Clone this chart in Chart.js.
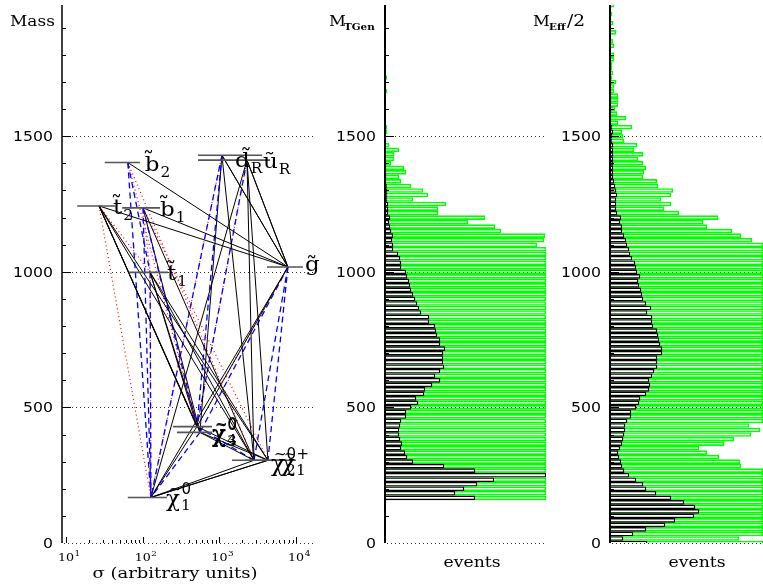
<!DOCTYPE html>
<html>
<head>
<meta charset="utf-8">
<script src="https://cdn.jsdelivr.net/npm/chart.js@4.4.0/dist/chart.umd.min.js"></script>
<style>
  html, body { margin: 0; padding: 0; background: #fff; }
  #wrap { position: relative; width: 763px; height: 584px; }
  #wrap canvas { position: absolute; left: 0; top: 0; }
</style>
</head>
<body>
<div id="wrap">
  <canvas id="spectrum" width="763" height="584"></canvas>
  <canvas id="tgen" width="763" height="584"></canvas>
  <canvas id="meff" width="763" height="584"></canvas>
</div>
<script>
// ---- axes ----
const massTicks = [0, 500, 1000, 1500];
const sigmaTicks = [10, 100, 1000, 10000];
const sigmaTickExp = ['1', '2', '3', '4'];

// ---- sparticle spectrum (left panel) ----
const particles    = ['b2', 't2', 'b1', 't1', 'dR', 'uR', 'gl', 'n4', 'n3', 'n2', 'c1', 'n1'];
const particleMass = [1403, 1243, 1236, 998, 1430, 1412, 1018, 429, 408, 305, 305, 168];
const particleSigma = [64, 27, 101, 125, 1080, 2290, 7830, 510, 558, 2830, 4300, 128];
const levelFrom = [32, 14, 54, 66, 526, 526, 4180, 248, 280, 1460, 2160, 64];
const levelTo   = [92, 44, 168, 214, 3590, 4570, 12300, 801, 801, 7160, 9970, 207];
const particleSymbol = ['b', 't', 'b', 't', 'd', 'u', 'g', 'χ', 'χ', 'χ', 'χ', 'χ'];
const particleSup    = ['', '', '', '', '', '', '', '0', '0', '0', '+', '0'];
const particleSub    = ['2', '2', '1', '1', 'R', 'R', '', '4', '3', '2', '1', '1'];

// decay lines: parent -> child, k = solid black, b = blue dashed, r = red dotted, br = both
const decayParent = ['b2','b1','t2','t2','t2','t2','t2','t2','t2','t2','t2','b2','b2','b2','b2','b1','b1','b1','b1','b1','b1',
                     't1','t1','t1','t1','t1','dR','dR','uR','uR','dR','dR','dR','dR','uR','uR','uR','uR',
                     'gl','gl','gl','gl','gl','gl','n4','n3','n4','n3','n4','n3','n2','c1','c1'];
const decayChild  = ['gl','gl','gl','n4','n4','n3','n2','c1','n1','t1','n4','n1','t1','n2','n4','n1','n4','n2','t1','c1','n3',
                     'n4','n3','n2','c1','n1','gl','gl','gl','gl','n1','n4','n3','n2','n1','n2','c1','n4',
                     'n4','n4','n3','n1','n2','c1','c1','n2','n2','c1','n1','n1','n1','n1','n1'];
const decayStyle  = ['k','k','k','k','k','k','k','k','r','r','r','b','b','r','r','b','b','k','r','r','k',
                     'k','k','k','k','br','k','k','k','k','br','b','k','k','k','k','k','br',
                     'k','r','b','k','b','b','k','k','b','k','k','b','k','k','k'];

// ---- histograms: 120 mass bins of 2000/120 ----
const binWidth = 2000 / 120;
const binMass = Array.from({ length: 120 }, (_, k) => k * binWidth);

const tgenBlack = [
  0, 0, 0, 0, 0, 0, 0, 0, 0, 0,
  90, 70, 79, 92, 109, 161, 90, 59, 28, 22,
  20, 16, 17, 15, 14, 14, 15, 16, 21, 21,
  26, 33, 31, 39, 40, 47, 55, 50, 55, 59,
  58, 58, 58, 60, 55, 55, 52, 51, 50, 44,
  44, 36, 34, 32, 30, 28, 26, 25, 24, 22,
  21, 16, 16, 15, 13, 8, 8, 7, 8, 6,
  5, 4, 5, 3, 3, 3, 2, 2, 2, 1.5,
  1, 1, 1, 1, 0.5, 0.5, 0.5, 0.5, 0.3, 0,
  0, 0, 0, 0, 0, 0, 0, 0, 0, 0,
  0, 0, 0, 0, 0, 0, 0, 0, 0, 0,
  0, 0, 0, 0, 0, 0, 0, 0, 0, 0
];
const tgenGreen = [
  0, 0, 0, 0, 0, 0, 0, 0, 0, 0,
  161, 161, 161, 161, 161, 161, 161, 161, 161, 161,
  161, 161, 161, 161, 161, 161, 161, 161, 161, 161,
  161, 161, 161, 161, 161, 161, 161, 161, 161, 161,
  161, 161, 161, 161, 161, 161, 161, 161, 161, 161,
  161, 161, 161, 161, 161, 161, 161, 161, 161, 161,
  161, 161, 161, 161, 161, 161, 152, 159, 160, 116,
  110, 83, 100, 53, 53, 61, 28, 43, 38, 26,
  16, 14, 21, 19, 6, 9, 9, 14, 4, 1,
  1, 2, 2, 0, 0, 0, 0, 0, 0, 0,
  2, 0, 0, 2, 0, 0, 0, 0, 0, 0,
  0, 0, 0, 0, 0, 0, 0, 0, 0, 0
];
const meffBlack = [
  37, 13, 23, 36, 55, 65, 84, 89, 85, 74,
  61, 46, 36, 33, 26, 19, 14, 12, 11, 9,
  8, 10, 12, 13, 14, 15, 15, 17, 21, 21,
  26, 29, 30, 36, 39, 40, 39, 42, 44, 47,
  47, 47, 52, 52, 50, 49, 48, 47, 43, 42,
  42, 37, 41, 36, 33, 32, 31, 29, 28, 30,
  27, 26, 25, 22, 20, 19, 17, 16, 14, 12,
  12, 10, 11, 7, 6, 6, 6, 7, 6, 5,
  4, 3, 3, 3, 3, 3, 3, 3, 3, 2,
  2, 3, 2, 1, 1, 1, 1, 1, 1, 1,
  1, 1, 1, 0.5, 0.5, 0.5, 0.5, 0.5, 0.5, 0.5,
  0.5, 0.5, 0.5, 0.5, 0.5, 0.5, 0.5, 0.5, 0.5, 0.5
];
const meffGreen = [
  153, 129, 153, 153, 153, 153, 153, 153, 153, 153,
  153, 153, 153, 153, 153, 153, 153, 131, 130, 109,
  97, 89, 114, 124, 141, 150, 139, 153, 153, 153,
  153, 153, 153, 153, 153, 153, 153, 153, 153, 153,
  153, 153, 153, 153, 153, 153, 153, 153, 153, 153,
  153, 153, 153, 153, 153, 153, 153, 153, 153, 153,
  153, 153, 153, 153, 153, 153, 153, 142, 131, 122,
  97, 93, 108, 69, 54, 61, 51, 61, 63, 48,
  47, 33, 34, 36, 33, 28, 33, 24, 27, 14,
  13, 12, 22, 8, 16, 7, 5, 8, 8, 8,
  4, 4, 6, 2, 3, 2, 2, 4, 4, 1,
  4, 3, 1, 6, 1, 3, 1, 2, 1, 4
];

// ---- helpers ----
const MASS_MAX = 1984;

function wideText(ctx, txt, x, y, font, sx, align) {
  ctx.save();
  ctx.font = font;
  ctx.textAlign = 'left';
  ctx.textBaseline = 'alphabetic';
  const w = ctx.measureText(txt).width * sx;
  let x0 = x;
  if (align === 'right') x0 = x - w;
  else if (align === 'center') x0 = x - w / 2;
  ctx.translate(x0, y);
  ctx.scale(sx, 1);
  ctx.fillText(txt, 0, 0);
  ctx.restore();
  return w;
}

function drawMassGrid(chart) {
  const { ctx, chartArea: a, scales: { y } } = chart;
  ctx.save();
  ctx.strokeStyle = '#333';
  ctx.lineWidth = 1;
  ctx.setLineDash([1, 3]);
  massTicks.forEach(m => {
    const py = Math.round(y.getPixelForValue(m)) + 0.5;
    ctx.beginPath();
    ctx.moveTo(a.left + 2, py);
    ctx.lineTo(a.right, py);
    ctx.stroke();
  });
  ctx.restore();
}

function drawMassAxis(chart, axisWidth) {
  const { ctx, chartArea: a, scales: { y } } = chart;
  ctx.save();
  ctx.strokeStyle = '#000';
  ctx.fillStyle = '#000';
  ctx.lineWidth = axisWidth;
  ctx.beginPath();
  ctx.moveTo(a.left, a.top);
  ctx.lineTo(a.left, a.bottom);
  ctx.stroke();
  ctx.lineWidth = 1;
  for (let m = 100; m < MASS_MAX; m += 100) {
    const py = Math.round(y.getPixelForValue(m)) + 0.5;
    const len = massTicks.includes(m) ? 9 : 4;
    ctx.beginPath();
    ctx.moveTo(a.left, py);
    ctx.lineTo(a.left + len, py);
    ctx.stroke();
  }
  massTicks.forEach(m => {
    const py = y.getPixelForValue(m);
    wideText(ctx, String(m), a.left - 9, py + 5, '14px "DejaVu Sans"', 1.12, 'right');
  });
  ctx.restore();
}

const lineStyles = {
  k: { color: '#000000', dash: [], width: 1 },
  b: { color: '#0000ff', dash: [6, 4], width: 1.3 },
  r: { color: '#ff0000', dash: [1, 3], width: 1.2 }
};

function nodeOf(name) {
  const i = particles.indexOf(name);
  return { x: particleSigma[i], y: particleMass[i] };
}

// ---- left panel datasets ----
const spectrumSets = [];
particles.forEach((p, i) => {
  spectrumSets.push({
    data: [{ x: levelFrom[i], y: particleMass[i] }, { x: levelTo[i], y: particleMass[i] }],
    borderColor: '#555', borderWidth: 1.6, showLine: true, pointRadius: 0
  });
});
decayParent.forEach((p, i) => {
  const styles = decayStyle[i] === 'br' ? ['b', 'r'] : [decayStyle[i]];
  styles.forEach(s => {
    const st = lineStyles[s];
    spectrumSets.push({
      data: [nodeOf(p), nodeOf(decayChild[i])],
      borderColor: st.color, borderWidth: st.width, borderDash: st.dash,
      showLine: true, pointRadius: 0
    });
  });
});

const labelOffsets = {
  b2: [17, 8], t2: [14, 8], b1: [17, 8], t1: [17, 8], dR: [13, 12], uR: [16, 8],
  gl: [17, 4], n4: [15, 14], n3: [12, 10], n2: [17, 11], c1: [13, 11], n1: [15, 9]
};

const spectrumPainter = {
  id: 'spectrumPainter',
  beforeDatasetsDraw(chart) { drawMassGrid(chart); },
  afterDatasetsDraw(chart) {
    const { ctx, chartArea: a, scales: { x, y } } = chart;
    drawMassAxis(chart, 1.5);
    ctx.save();
    ctx.fillStyle = '#000';
    ctx.strokeStyle = '#000';
    // sigma ticks (inward)
    ctx.lineWidth = 1;
    for (let d = 10; d <= 10000; d *= 10) {
      for (let j = 1; j <= 9; j++) {
        const v = d * j;
        if (v > x.max) break;
        const px = Math.round(x.getPixelForValue(v)) + 0.5;
        const len = j === 1 ? 6 : 3;
        ctx.beginPath();
        ctx.moveTo(px, a.bottom);
        ctx.lineTo(px, a.bottom - len);
        ctx.stroke();
      }
    }
    sigmaTicks.forEach((v, i) => {
      const px = x.getPixelForValue(v);
      const w = wideText(ctx, '10', px - 8, 561, '11px "DejaVu Serif"', 1.15, 'left');
      wideText(ctx, sigmaTickExp[i], px - 8 + w + 0.5, 556, '8px "DejaVu Serif"', 1.1, 'left');
    });
    wideText(ctx, 'σ (arbitrary units)', 175, 578, '15px "DejaVu Serif"', 1.2, 'center');
    wideText(ctx, 'Mass', 10, 26, '15px "DejaVu Serif"', 1.13, 'left');
    // particle labels
    particles.forEach((p, i) => {
      const nx = x.getPixelForValue(particleSigma[i]);
      const ny = y.getPixelForValue(particleMass[i]);
      const [dx, dy] = labelOffsets[p];
      const lx = nx + dx, ly = ny + dy;
      if (particleSymbol[i] === 'χ') {
        const w = wideText(ctx, 'χ', lx, ly, '22px "DejaVu Serif"', 1.05, 'left');
        wideText(ctx, '~' + particleSup[i], lx + 3, ly - 12, '15px "DejaVu Sans"', 1.0, 'left');
        wideText(ctx, particleSub[i], lx + w + 1, ly + 4, '14px "DejaVu Serif"', 1.1, 'left');
      } else {
        const w = wideText(ctx, particleSymbol[i] + '\u0303', lx, ly, '20px "DejaVu Serif"', 1.15, 'left');
        if (particleSub[i]) {
          wideText(ctx, particleSub[i], lx + w + 1, ly + 6, '14px "DejaVu Serif"', 1.1, 'left');
        }
      }
    });
    ctx.restore();
  }
};

new Chart(document.getElementById('spectrum'), {
  type: 'scatter',
  data: { datasets: spectrumSets },
  options: {
    responsive: false,
    animation: false,
    devicePixelRatio: 1,
    layout: { padding: { left: 62, right: 763 - 316, top: 5, bottom: 584 - 543 } },
    plugins: { legend: { display: false }, tooltip: { enabled: false } },
    scales: {
      x: { type: 'logarithmic', min: 8.87, max: 18200, display: false },
      y: { type: 'linear', min: 0, max: MASS_MAX, display: false }
    }
  },
  plugins: [spectrumPainter]
});

// ---- histogram panels ----
function histogram(canvasId, black, green, left, right, xMax, titleFn, eventsX) {
  const painter = {
    id: 'histPainter_' + canvasId,
    beforeDatasetsDraw(chart) { drawMassGrid(chart); },
    afterDatasetsDraw(chart) {
      const { ctx } = chart;
      drawMassAxis(chart, 2);
      ctx.save();
      ctx.fillStyle = '#000';
      titleFn(ctx);
      wideText(ctx, 'events', eventsX, 567, '15px "DejaVu Serif"', 1.15, 'center');
      ctx.restore();
    }
  };
  new Chart(document.getElementById(canvasId), {
    type: 'bar',
    data: {
      datasets: [
        {
          data: black.map((v, k) => ({ x: v, y: binMass[k] })),
          borderColor: '#000', backgroundColor: '#fff', borderWidth: 1.4
        },
        {
          data: green.map((v, k) => ({ x: v, y: binMass[k] })),
          borderColor: '#00ff00', backgroundColor: 'rgba(255,255,255,0)', borderWidth: 1
        }
      ]
    },
    options: {
      responsive: false,
      animation: false,
      devicePixelRatio: 1,
      indexAxis: 'y',
      grouped: false,
      barThickness: 4,
      borderSkipped: 'start',
      layout: { padding: { left: left, right: 763 - right, top: 5, bottom: 584 - 543 } },
      plugins: { legend: { display: false }, tooltip: { enabled: false } },
      scales: {
        x: { type: 'linear', min: 0, max: xMax, display: false },
        y: { type: 'linear', min: 0, max: MASS_MAX, offset: false, display: false }
      }
    },
    plugins: [painter]
  });
}

histogram('tgen', tgenBlack, tgenGreen, 385, 546, 161, ctx => {
  wideText(ctx, 'M', 329, 26, '15px "DejaVu Serif"', 1.1, 'left');
  wideText(ctx, 'TGen', 344, 30, 'bold 9px "DejaVu Serif"', 1.15, 'left');
}, 472);

histogram('meff', meffBlack, meffGreen, 610, 763, 153, ctx => {
  wideText(ctx, 'M', 533, 26, '15px "DejaVu Serif"', 1.1, 'left');
  wideText(ctx, 'Eff', 549, 30, 'bold 9px "DejaVu Serif"', 1.15, 'left');
  wideText(ctx, '/2', 567, 26, '17px "DejaVu Serif"', 1.1, 'left');
}, 697);
</script>
</body>
</html>
